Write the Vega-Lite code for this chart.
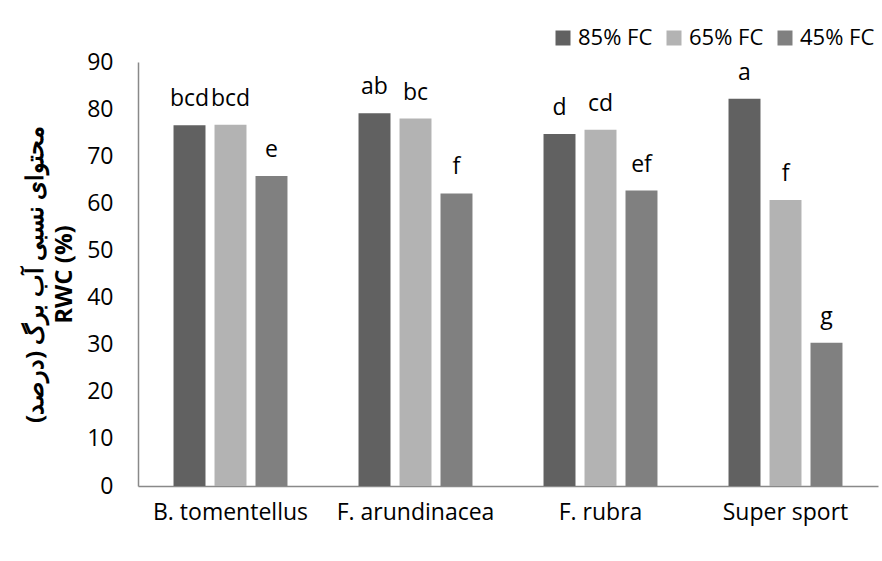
{
  "$schema": "https://vega.github.io/schema/vega-lite/v6.json",
  "width": 740,
  "height": 424,
  "autosize": {"type": "none"},
  "padding": {"left": 138, "top": 62, "right": 4, "bottom": 75},
  "background": "white",
  "config": {
    "view": {"stroke": null},
    "font": "Open Sans",
    "axis": {"labelFont": "Open Sans", "titleFont": "Open Sans"}
  },
  "data": {
    "values": [
      {"species": "B. tomentellus", "fc": "85% FC", "rwc": 76.6, "sig": "bcd"},
      {"species": "B. tomentellus", "fc": "65% FC", "rwc": 76.7, "sig": "bcd"},
      {"species": "B. tomentellus", "fc": "45% FC", "rwc": 65.8, "sig": "e"},
      {"species": "F. arundinacea", "fc": "85% FC", "rwc": 79.1, "sig": "ab"},
      {"species": "F. arundinacea", "fc": "65% FC", "rwc": 78.0, "sig": "bc"},
      {"species": "F. arundinacea", "fc": "45% FC", "rwc": 62.1, "sig": "f"},
      {"species": "F. rubra", "fc": "85% FC", "rwc": 74.7, "sig": "d"},
      {"species": "F. rubra", "fc": "65% FC", "rwc": 75.6, "sig": "cd"},
      {"species": "F. rubra", "fc": "45% FC", "rwc": 62.7, "sig": "ef"},
      {"species": "Super sport", "fc": "85% FC", "rwc": 82.2, "sig": "a"},
      {"species": "Super sport", "fc": "65% FC", "rwc": 60.7, "sig": "f"},
      {"species": "Super sport", "fc": "45% FC", "rwc": 30.4, "sig": "g"}
    ]
  },
  "encoding": {
    "x": {
      "field": "species",
      "type": "nominal",
      "sort": null,
      "scale": {"paddingInner": 0.384, "paddingOuter": 0.192},
      "axis": {
        "title": null,
        "labelAngle": 0,
        "labelFontSize": 23,
        "labelColor": "#000000",
        "labelPadding": 15,
        "ticks": false,
        "domainColor": "#898989",
        "domainWidth": 1.5
      }
    },
    "xOffset": {
      "field": "fc",
      "type": "nominal",
      "sort": ["85% FC", "65% FC", "45% FC"],
      "scale": {"paddingInner": 0.22, "paddingOuter": 0}
    },
    "y": {
      "field": "rwc",
      "type": "quantitative",
      "scale": {"domain": [0, 90], "nice": false},
      "axis": {
        "values": [0, 10, 20, 30, 40, 50, 60, 70, 80, 90],
        "grid": false,
        "ticks": false,
        "labelFontSize": 23,
        "labelColor": "#000000",
        "labelPadding": 25,
        "domainColor": "#898989",
        "domainWidth": 1.5,
        "title": ["محتوای نسبی آب برگ (درصد)", "RWC (%)"],
        "titleFontSize": 24,
        "titleFontWeight": "bold",
        "titleColor": "#000000",
        "titleLineHeight": 29,
        "titlePadding": 10
      }
    }
  },
  "layer": [
    {
      "mark": {"type": "bar"},
      "encoding": {
        "color": {
          "field": "fc",
          "type": "nominal",
          "sort": ["85% FC", "65% FC", "45% FC"],
          "scale": {"domain": ["85% FC", "65% FC", "45% FC"], "range": ["#616161", "#b3b3b3", "#808080"]},
          "legend": {
            "title": null,
            "orient": "none",
            "direction": "horizontal",
            "legendX": 414,
            "legendY": -35,
            "symbolType": "square",
            "symbolSize": 225,
            "symbolStrokeWidth": 0,
            "labelFontSize": 22,
            "labelColor": "#000000",
            "labelOffset": 4,
            "columnPadding": 10,
            "labelLimit": 200
          }
        }
      }
    },
    {
      "mark": {"type": "text", "baseline": "alphabetic", "dy": -19, "fontSize": 23, "color": "#000000"},
      "encoding": {
        "text": {"field": "sig", "type": "nominal"}
      }
    }
  ]
}
